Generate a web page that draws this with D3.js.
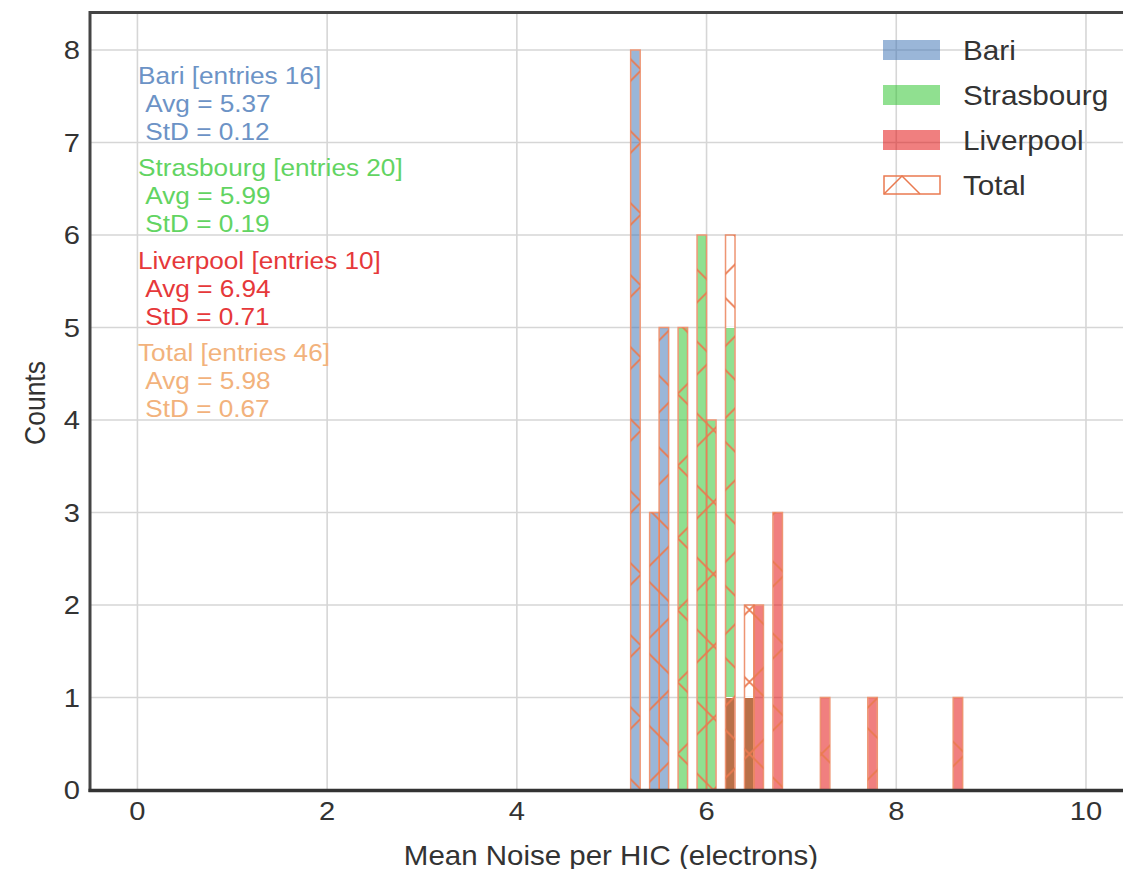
<!DOCTYPE html>
<html>
<head>
<meta charset="utf-8">
<script src="https://cdn.jsdelivr.net/npm/d3@7"></script>
<style>
  body { margin: 0; background: #fff; }
  text { font-family: "Liberation Sans", Arial, sans-serif; }
</style>
</head>
<body>
<div id="chart"></div>
<script>
// Histogram bins (lower edge, width 0.1) and counts
var binWidth = 0.1;
var bariBins = [5.2, 5.4, 5.5];
var bariCounts = [8, 3, 5];
var strasBins = [5.7, 5.9, 6.0, 6.2, 6.4];
var strasCounts = [5, 6, 4, 5, 1];
var liverBins = [6.2, 6.4, 6.5, 6.7, 7.2, 7.7, 8.6];
var liverCounts = [1, 1, 2, 3, 1, 1, 1];

var xTicks = [0, 2, 4, 6, 8, 10];
var yTicks = [0, 1, 2, 3, 4, 5, 6, 7, 8];

var seriesNames = ["Bari", "Strasbourg", "Liverpool", "Total"];
var statEntries = [16, 20, 10, 46];
var statAvg = ["5.37", "5.99", "6.94", "5.98"];
var statStd = ["0.12", "0.19", "0.71", "0.67"];

var fillColors = ["#356db1", "#21c121", "#e10000"];
var textColors = ["#6c93c6", "#62d462", "#e6383a", "#f2b27c"];
var totalColor = "#ea7a50";

var width = 1123, height = 869;
var sx = 1.1; // glyphs in the picture are a bit wide

var svg = d3.select("#chart").append("svg")
    .attr("width", width)
    .attr("height", height);

// scales: x axis spans -0.5 .. 10.5, the right part is cut by the picture edge
var x = d3.scaleLinear().domain([-0.5, 10.5]).range([90, 1133.4]);
var y = d3.scaleLinear().domain([0, 8.4]).range([790, 13]);

// hatch pattern for the Total histogram
var defs = svg.append("defs");
var hatch = defs.append("pattern")
    .attr("id", "hatch")
    .attr("patternUnits", "userSpaceOnUse")
    .attr("width", 72).attr("height", 72)
    .attr("x", x(0)).attr("y", y(0));
hatch.append("path")
    .attr("d", "M0,72 L72,0 M-36,36 L36,-36 M36,108 L108,36 M0,0 L72,72 M-36,36 L36,108 M36,-36 L108,36")
    .attr("stroke", totalColor)
    .attr("stroke-width", 1.8)
    .attr("fill", "none");

// grid
svg.append("g").selectAll("line").data(xTicks).enter().append("line")
    .attr("x1", d => x(d)).attr("x2", d => x(d))
    .attr("y1", y(8.4)).attr("y2", y(0))
    .attr("stroke", "#d6d6d6").attr("stroke-width", 1.6);
svg.append("g").selectAll("line").data(yTicks).enter().append("line")
    .attr("x1", x(-0.5)).attr("x2", width)
    .attr("y1", d => y(d)).attr("y2", d => y(d))
    .attr("stroke", "#d6d6d6").attr("stroke-width", 1.6);

// build series
function toBars(bins, counts) {
    return bins.map(function (b, i) { return { x0: b, n: counts[i] }; });
}
var series = [
    toBars(bariBins, bariCounts),
    toBars(strasBins, strasCounts),
    toBars(liverBins, liverCounts)
];

// total = sum of all series per bin
var totalMap = {};
series.forEach(function (s) {
    s.forEach(function (d) {
        var k = d.x0.toFixed(1);
        totalMap[k] = (totalMap[k] || 0) + d.n;
    });
});
var totalBars = Object.keys(totalMap).map(function (k) { return { x0: +k, n: totalMap[k] }; });

series.forEach(function (s, i) {
    svg.append("g").selectAll("rect").data(s).enter().append("rect")
        .attr("x", d => x(d.x0))
        .attr("width", d => x(d.x0 + binWidth) - x(d.x0))
        .attr("y", d => y(d.n))
        .attr("height", d => y(0) - y(d.n))
        .attr("fill", fillColors[i])
        .attr("fill-opacity", 0.5)
        .attr("stroke", "#fff")
        .attr("stroke-width", 1);
});

svg.append("g").selectAll("rect").data(totalBars).enter().append("rect")
    .attr("x", d => x(d.x0))
    .attr("width", d => x(d.x0 + binWidth) - x(d.x0))
    .attr("y", d => y(d.n))
    .attr("height", d => y(0) - y(d.n))
    .attr("fill", "url(#hatch)")
    .attr("stroke", totalColor)
    .attr("stroke-opacity", 0.8)
    .attr("stroke-width", 1.5);

// frame
svg.append("line").attr("x1", 90).attr("x2", width).attr("y1", 12.5).attr("y2", 12.5)
    .attr("stroke", "#444").attr("stroke-width", 3);
svg.append("line").attr("x1", 90).attr("x2", 90).attr("y1", 11).attr("y2", 792)
    .attr("stroke", "#444").attr("stroke-width", 3);
svg.append("line").attr("x1", 88.5).attr("x2", width).attr("y1", 790.5).attr("y2", 790.5)
    .attr("stroke", "#333").attr("stroke-width", 3.5);

// helper for slightly widened text
function addText(g, px, py, str, size, color, anchor) {
    return g.append("text")
        .attr("transform", "translate(" + px + "," + py + ") scale(" + sx + ",1)")
        .attr("font-size", size)
        .attr("fill", color)
        .attr("text-anchor", anchor || "start")
        .attr("dominant-baseline", "central")
        .text(str);
}

// tick labels
var axisG = svg.append("g");
xTicks.forEach(function (t) { addText(axisG, x(t), 811, t, 26.5, "#333", "middle"); });
yTicks.forEach(function (t) { addText(axisG, 80, y(t), t, 26.5, "#333", "end"); });

// axis titles
addText(axisG, 611, 855, "Mean Noise per HIC (electrons)", 26.8, "#333", "middle");
svg.append("text")
    .attr("transform", "translate(35,403) scale(" + sx + ",1) rotate(-90)")
    .attr("font-size", 26.5)
    .attr("fill", "#333")
    .attr("text-anchor", "middle")
    .attr("dominant-baseline", "central")
    .text("Counts");

// statistics blocks
var statG = svg.append("g");
seriesNames.forEach(function (name, i) {
    var top = y(7.73 - i);
    addText(statG, 138, top, name + " [entries " + statEntries[i] + "]", 23.8, textColors[i]);
    addText(statG, 138, top + 28, "\u00a0Avg = " + statAvg[i], 23.8, textColors[i]);
    addText(statG, 138, top + 56, "\u00a0StD = " + statStd[i], 23.8, textColors[i]);
});

// legend
var legG = svg.append("g");
seriesNames.forEach(function (name, i) {
    var cy = 50 + i * 45;
    if (i < 3) {
        legG.append("rect")
            .attr("x", 883).attr("y", cy - 10)
            .attr("width", 57).attr("height", 20)
            .attr("fill", fillColors[i]).attr("fill-opacity", 0.5);
    } else {
        legG.append("rect")
            .attr("x", 884).attr("y", cy - 9)
            .attr("width", 56).attr("height", 18)
            .attr("fill", "none")
            .attr("stroke", totalColor).attr("stroke-width", 1.5);
        legG.append("path")
            .attr("d", "M884," + (cy + 9) + " L902," + (cy - 9) + " L920," + (cy + 9))
            .attr("fill", "none")
            .attr("stroke", totalColor).attr("stroke-width", 1.5);
    }
    addText(legG, 963, cy, name, 27, "#333");
});
</script>
</body>
</html>
